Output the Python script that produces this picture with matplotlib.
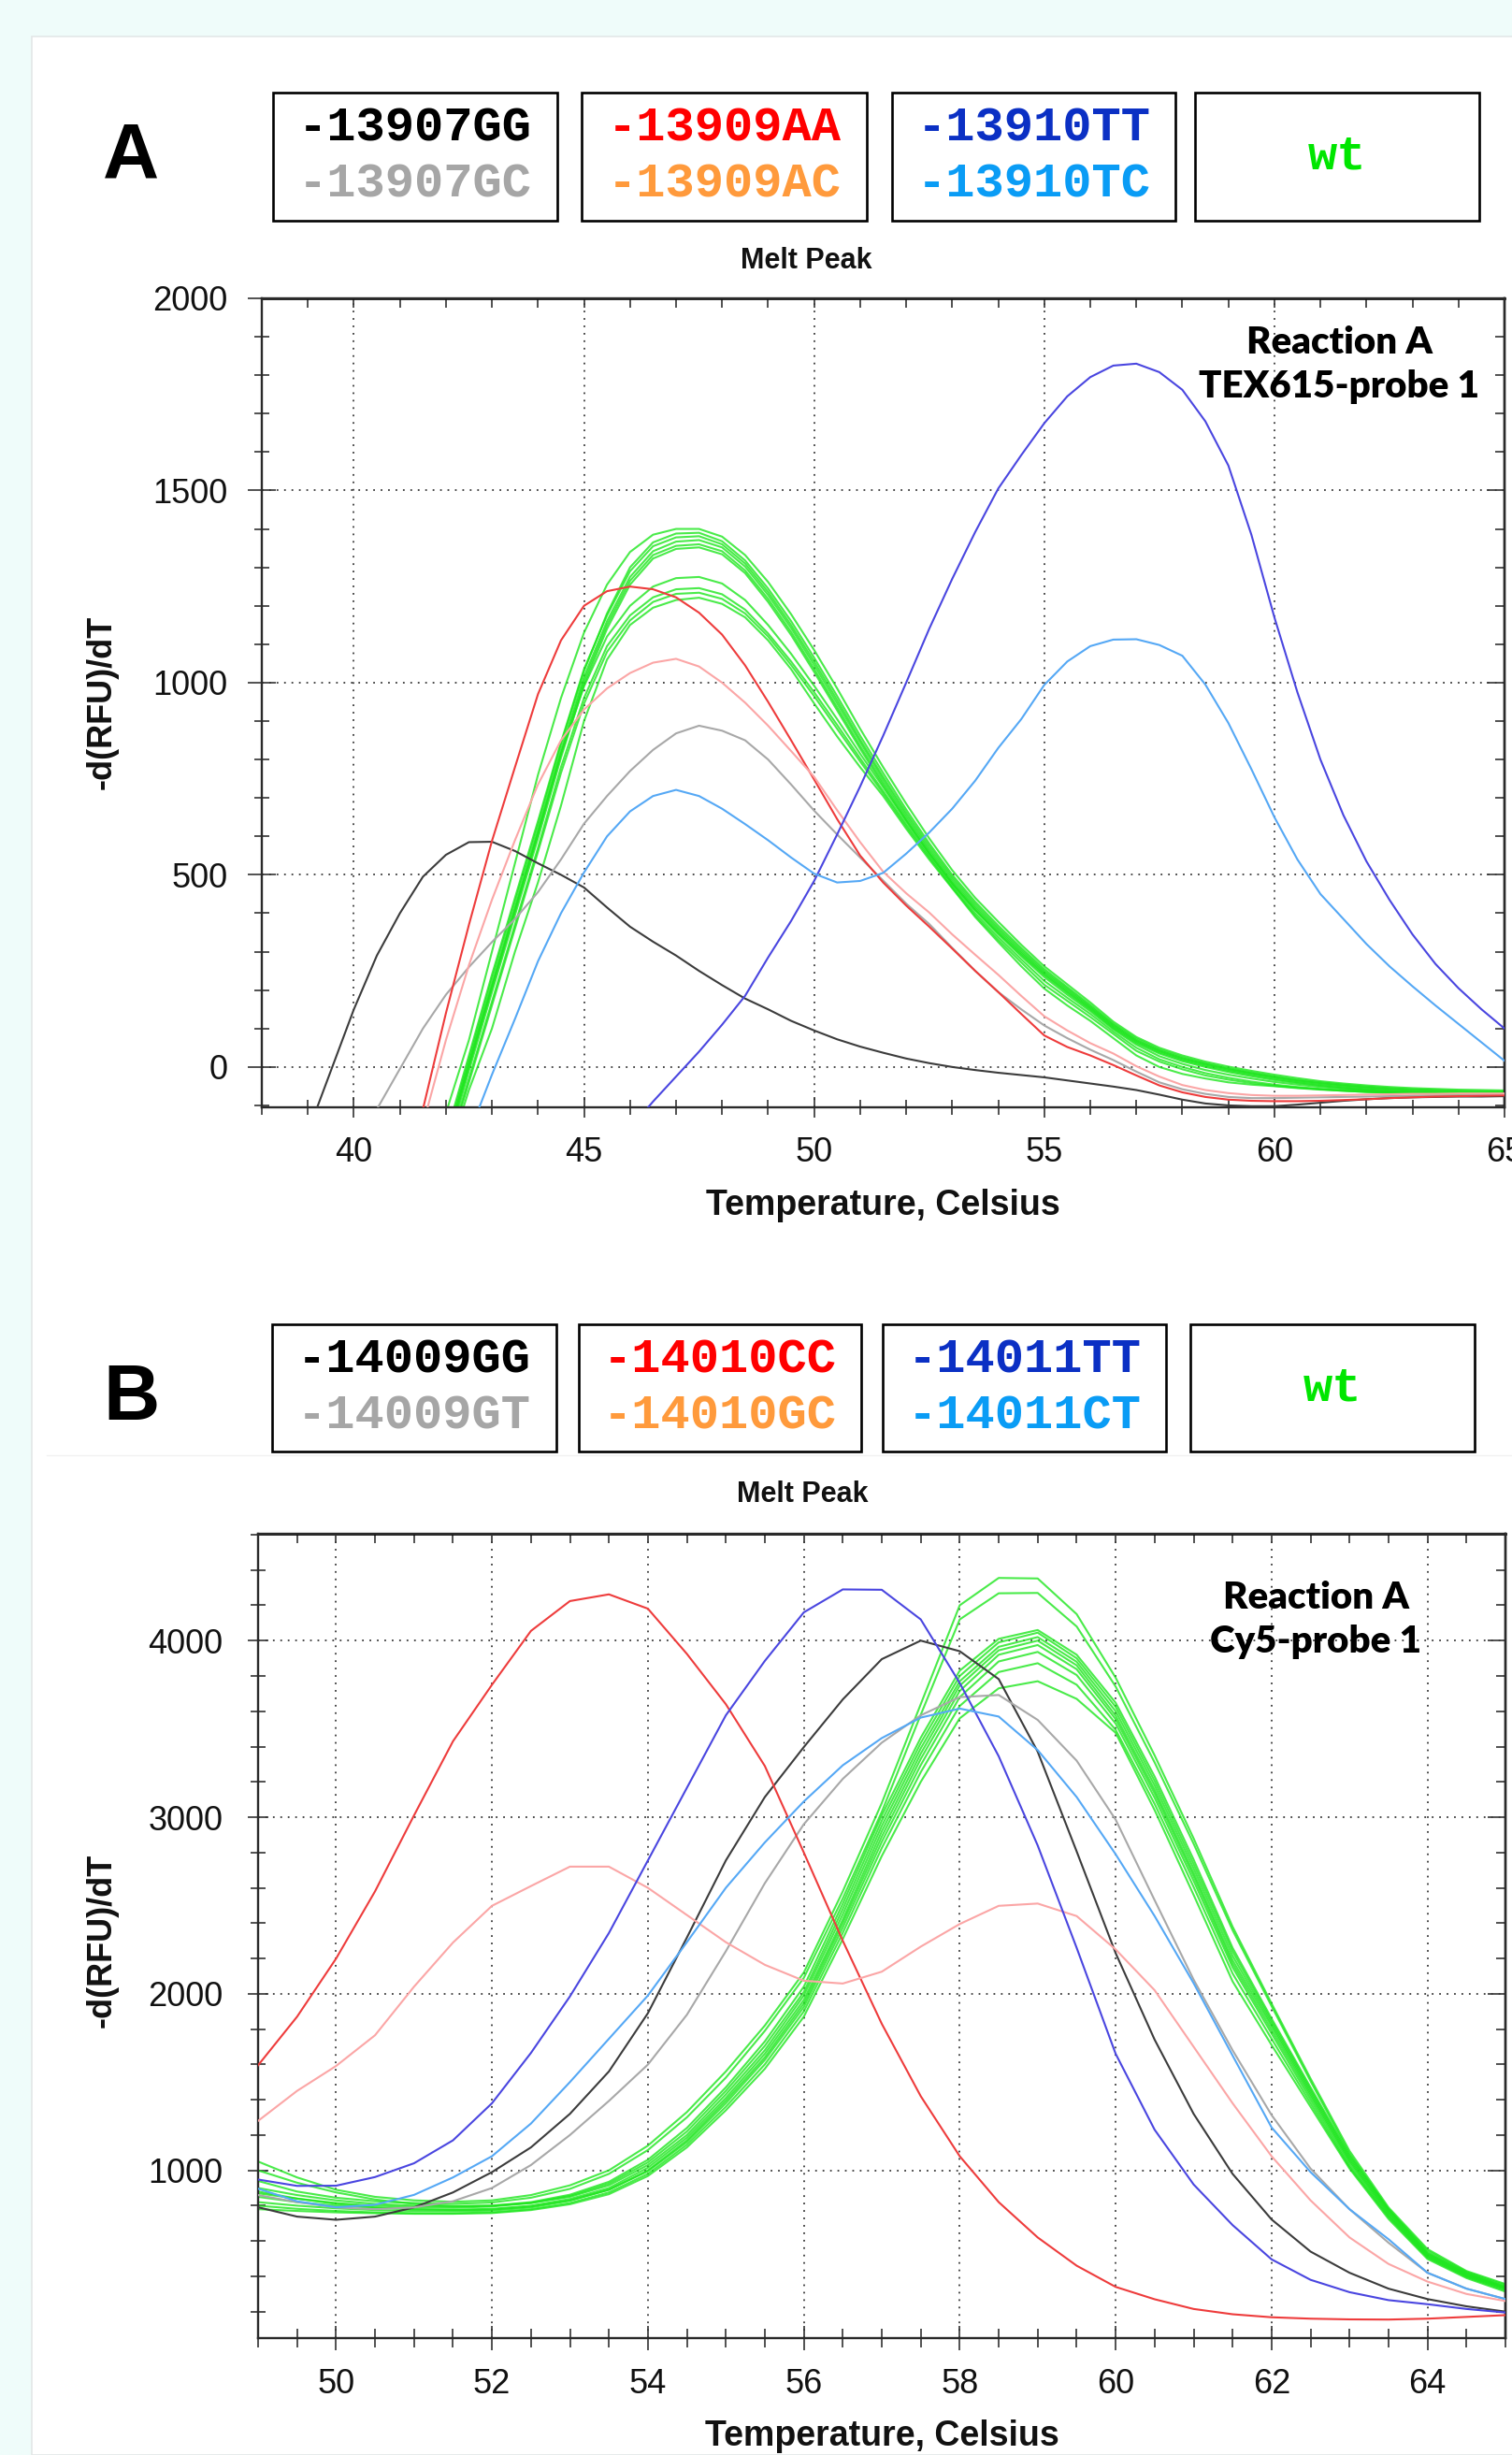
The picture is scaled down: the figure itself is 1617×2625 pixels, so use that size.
import numpy as np
import matplotlib
matplotlib.use('Agg')
import matplotlib.pyplot as plt
from matplotlib.patches import Rectangle
from matplotlib.lines import Line2D
from matplotlib.ticker import MultipleLocator

# ---------------------------------------------------------------------------
# data read off the melt-peak screenshots, sampled every 0.5 degC
# each curve = (first temperature, values)
# ---------------------------------------------------------------------------
STEP = 0.5

# panel A : Reaction A, TEX615-probe 1
a_gg = (39.0, [-170, -10, 150, 290, 400, 495, 552, 585, 586, 562, 530, 500, 467, 415, 365, 326, 290,
               250, 213, 178, 150, 120, 95, 72, 53, 37, 22, 10, 0, -8, -15, -21, -27, -35, -43, -51,
               -60, -72, -85, -95, -100, -102, -102, -98, -93, -88, -84, -81, -79, -78, -77, -77, -76])
a_gc = (40.5, [-110, -5, 100, 188, 260, 325, 385, 455, 540, 633, 705, 770, 825, 868, 888, 875, 850,
               800, 735, 667, 605, 545, 485, 425, 372, 310, 250, 195, 150, 108, 75, 45, 18, -12, -40,
               -58, -70, -78, -81, -81, -80, -79, -78, -77, -76, -75, -74, -74, -73, -73])
a_aa = (41.5, [-110, 140, 370, 588, 780, 970, 1110, 1200, 1238, 1250, 1243, 1222, 1182, 1125, 1045,
               950, 850, 748, 645, 550, 480, 420, 365, 308, 250, 195, 138, 82, 52, 30, 5, -22, -48,
               -66, -78, -85, -88, -89, -89, -88, -86, -84, -81, -79, -77, -76, -75, -74])
a_ac = (41.5, [-150, 70, 265, 435, 590, 735, 850, 930, 985, 1025, 1052, 1062, 1042, 1000, 948, 888,
               822, 755, 668, 585, 508, 452, 402, 345, 292, 240, 185, 132, 95, 62, 35, 2, -25, -47,
               -60, -68, -73, -75, -75, -74, -73, -72, -71, -70, -70, -69, -69, -69])
a_tt = (46.0, [-160, -90, -25, 40, 110, 185, 285, 380, 484, 605, 730, 862, 1000, 1140, 1270, 1392,
               1505, 1592, 1675, 1745, 1795, 1825, 1830, 1808, 1762, 1680, 1565, 1385, 1170, 975, 800,
               655, 535, 435, 345, 268, 205, 150, 100])
a_tc = (42.5, [-175, -20, 125, 275, 400, 506, 600, 665, 705, 721, 705, 672, 632, 590, 545, 503, 480,
               484, 505, 555, 610, 672, 745, 830, 905, 994, 1055, 1095, 1112, 1113, 1098, 1070, 995,
               895, 775, 650, 540, 450, 385, 320, 262, 210, 160, 112, 64, 16])
a_wt_start = 42.0
a_wt = [
    [-120, 70, 300, 530, 760, 960, 1130, 1255, 1340, 1385, 1400, 1400, 1380, 1332, 1262, 1178, 1085, 985,
     880, 780, 685, 595, 512, 440, 378, 318, 262, 215, 168, 118, 78, 50, 30, 14, 1, -10, -20, -29, -37,
     -43, -48, -52, -55, -57, -59, -60, -61],
    [-190, 20, 230, 430, 630, 840, 1030, 1180, 1300, 1365, 1388, 1390, 1368, 1318, 1245, 1160, 1065, 965,
     862, 765, 670, 582, 500, 430, 368, 310, 255, 208, 162, 113, 74, 46, 26, 10, -3, -14, -24, -33, -40,
     -46, -51, -55, -58, -60, -62, -63, -64],
    [-180, 30, 240, 440, 640, 845, 1035, 1175, 1290, 1355, 1378, 1381, 1360, 1310, 1236, 1150, 1055, 955,
     852, 755, 662, 575, 494, 424, 362, 305, 250, 204, 158, 110, 70, 43, 23, 8, -5, -16, -26, -35, -42,
     -48, -53, -57, -60, -62, -64, -65, -66],
    [-200, 10, 215, 415, 615, 825, 1015, 1160, 1275, 1342, 1367, 1371, 1352, 1302, 1228, 1142, 1046, 946,
     845, 748, 655, 568, 488, 418, 357, 300, 246, 200, 155, 107, 68, 41, 21, 6, -7, -18, -28, -37, -44,
     -50, -55, -59, -62, -64, -66, -67, -68],
    [-210, 0, 205, 405, 605, 815, 1005, 1150, 1265, 1332, 1356, 1360, 1342, 1292, 1218, 1132, 1036, 936,
     835, 740, 648, 562, 482, 413, 352, 296, 242, 196, 152, 104, 65, 38, 18, 3, -10, -21, -31, -40, -47,
     -53, -58, -62, -65, -67, -68, -69, -70],
    [-220, -10, 195, 395, 595, 805, 995, 1140, 1255, 1323, 1348, 1352, 1334, 1285, 1210, 1124, 1028, 928,
     828, 733, 642, 556, 477, 408, 348, 292, 239, 193, 149, 101, 62, 35, 15, 0, -13, -24, -34, -42, -49,
     -55, -60, -64, -66, -68, -69, -70, -71],
    [-200, 5, 210, 410, 610, 815, 990, 1120, 1200, 1250, 1272, 1275, 1258, 1215, 1150, 1075, 992, 905,
     815, 728, 640, 556, 478, 408, 346, 288, 234, 188, 145, 98, 58, 28, 8, -8, -20, -30, -39, -46, -52,
     -57, -61, -64, -66, -68, -69, -70, -71],
    [-230, -30, 170, 370, 570, 780, 960, 1095, 1175, 1222, 1243, 1246, 1230, 1190, 1128, 1055, 975, 890,
     803, 718, 632, 550, 472, 400, 338, 280, 224, 180, 138, 92, 50, 20, 0, -16, -28, -38, -46, -52, -57,
     -61, -64, -66, -68, -69, -70, -71, -72],
    [-240, -40, 160, 360, 560, 765, 945, 1080, 1162, 1210, 1231, 1234, 1218, 1180, 1120, 1046, 965, 880,
     795, 712, 626, 545, 467, 394, 331, 272, 214, 172, 130, 86, 42, 14, -6, -22, -33, -42, -49, -54, -58,
     -62, -65, -67, -69, -70, -71, -72, -72],
    [-250, -60, 100, 300, 480, 680, 900, 1060, 1150, 1195, 1215, 1221, 1205, 1170, 1110, 1035, 946, 860,
     780, 705, 620, 540, 465, 390, 325, 262, 204, 160, 120, 75, 30, 0, -18, -30, -40, -46, -50, -55, -59,
     -62, -65, -67, -69, -70, -71, -72, -72],
]

# panel B : Reaction A, Cy5-probe 1 (all curves start at 49.0)
b_gg = (49.0, [791, 738, 720, 738, 790, 875, 990, 1130, 1320, 1560, 1890, 2318, 2755, 3114, 3397, 3667,
               3895, 4000, 3940, 3782, 3371, 2806, 2230, 1740, 1320, 980, 722, 540, 420, 330, 271, 230, 200])
b_gt = (49.0, [860, 820, 790, 780, 790, 825, 900, 1030, 1200, 1393, 1599, 1881, 2241, 2626, 2960, 3217,
               3422, 3577, 3680, 3692, 3551, 3320, 2986, 2530, 2080, 1680, 1313, 1010, 780, 590, 420, 330, 271])
b_cc = (49.0, [1595, 1870, 2199, 2580, 3010, 3430, 3750, 4055, 4224, 4262, 4181, 3925, 3640, 3290, 2800,
               2300, 1830, 1420, 1080, 820, 620, 460, 340, 270, 215, 185, 168, 160, 156, 155, 160, 170, 180])
b_gc = (49.0, [1280, 1450, 1591, 1765, 2040, 2290, 2498, 2610, 2720, 2720, 2600, 2446, 2292, 2164, 2074,
               2058, 2125, 2267, 2395, 2498, 2511, 2440, 2251, 2020, 1700, 1380, 1080, 830, 620, 470, 370, 300, 260])
b_tt = (49.0, [948, 912, 913, 962, 1040, 1170, 1380, 1665, 1985, 2344, 2755, 3166, 3577, 3885, 4160, 4290,
               4288, 4120, 3760, 3345, 2840, 2260, 1660, 1230, 920, 690, 496, 380, 310, 265, 242, 215, 195])
b_ct = (49.0, [896, 825, 791, 805, 861, 960, 1080, 1265, 1500, 1745, 1990, 2292, 2600, 2857, 3089, 3294,
               3448, 3564, 3615, 3570, 3380, 3114, 2790, 2440, 2060, 1650, 1243, 990, 780, 610, 420, 330, 271])
b_wt_start = 49.0
b_wt = [
    [1050, 960, 890, 850, 830, 822, 830, 860, 915, 1000, 1140, 1330, 1560, 1820, 2120, 2580, 3080, 3640,
     4200, 4355, 4352, 4150, 3790, 3350, 2880, 2380, 1945, 1520, 1110, 790, 554, 430, 356],
    [940, 880, 845, 825, 815, 810, 818, 845, 895, 980, 1115, 1300, 1525, 1790, 2090, 2540, 3030, 3580,
     4120, 4268, 4270, 4080, 3740, 3310, 2850, 2360, 1930, 1505, 1095, 780, 545, 425, 350],
    [900, 860, 830, 810, 800, 795, 800, 820, 862, 935, 1060, 1240, 1470, 1730, 2040, 2510, 3010, 3450,
     3830, 4010, 4060, 3920, 3648, 3230, 2760, 2260, 1860, 1470, 1085, 780, 535, 420, 342],
    [870, 840, 815, 800, 792, 788, 795, 815, 855, 925, 1045, 1220, 1450, 1705, 2010, 2480, 2980, 3420,
     3800, 3990, 4045, 3900, 3625, 3205, 2735, 2240, 1845, 1458, 1075, 772, 530, 416, 339],
    [1000, 930, 875, 835, 810, 798, 800, 815, 850, 915, 1030, 1200, 1430, 1680, 1990, 2450, 2950, 3390,
     3770, 3965, 4020, 3880, 3600, 3180, 2710, 2215, 1830, 1445, 1065, 765, 525, 412, 336],
    [850, 820, 800, 788, 780, 777, 782, 800, 838, 900, 1015, 1185, 1410, 1660, 1965, 2420, 2920, 3360,
     3745, 3945, 4000, 3860, 3575, 3155, 2685, 2190, 1815, 1432, 1055, 758, 520, 408, 333],
    [820, 800, 785, 775, 770, 768, 772, 790, 828, 890, 1000, 1170, 1395, 1640, 1945, 2400, 2890, 3330,
     3715, 3920, 3975, 3838, 3555, 3135, 2665, 2170, 1795, 1418, 1045, 750, 515, 404, 330],
    [880, 840, 810, 790, 780, 775, 778, 795, 830, 890, 995, 1160, 1380, 1625, 1925, 2375, 2860, 3295,
     3680, 3882, 3936, 3805, 3530, 3110, 2640, 2150, 1775, 1400, 1030, 742, 510, 400, 326],
    [800, 782, 770, 762, 758, 757, 762, 780, 815, 875, 980, 1145, 1360, 1600, 1900, 2345, 2825, 3255,
     3630, 3822, 3872, 3750, 3495, 3075, 2605, 2115, 1745, 1380, 1018, 735, 505, 396, 320],
    [780, 770, 762, 757, 754, 754, 758, 775, 808, 865, 968, 1130, 1340, 1575, 1870, 2310, 2780, 3200,
     3560, 3730, 3770, 3670, 3478, 3040, 2560, 2070, 1710, 1360, 1010, 725, 498, 390, 313],
]

a_legend = [['-13907GG', '-13907GC'], ['-13909AA', '-13909AC'], ['-13910TT', '-13910TC'], ['wt']]
b_legend = [['-14009GG', '-14009GT'], ['-14010CC', '-14010GC'], ['-14011TT', '-14011CT'], ['wt']]
a_note = ['Reaction A', 'TEX615-probe 1']
b_note = ['Reaction A', 'Cy5-probe 1']

# ---------------------------------------------------------------------------
W, H = 1617, 2625
C_BLACK, C_GRAY, C_RED, C_PINK = '#3c3c3c', '#a8a8a8', '#ee3c3c', '#fba6a6'
C_BLUE, C_LBLUE, C_GREEN = '#4a46e0', '#55a8f5', '#1de61d'
LEG_COLORS = [['#000000', '#a6a6a6'], ['#ff0000', '#ff9a3c'], ['#0b30c4', '#0a9cf5'], ['#00e600']]

plt.rcParams['font.family'] = ['Liberation Sans', 'DejaVu Sans']


def fx(px):
    return px / W


def fy(py):
    return 1 - py / H


def temps(start, vals):
    return start + STEP * np.arange(len(vals))


fig = plt.figure(figsize=(W / 100, H / 100), dpi=100)
fig.patch.set_facecolor('#effcfa')
fig.add_artist(Rectangle((fx(34), 0), 1 - fx(34) + 0.01, fy(39), transform=fig.transFigure,
                         facecolor='white', edgecolor='#e3e7e7', lw=1.2, zorder=0))
fig.add_artist(Line2D([fx(50), 1], [fy(1556), fy(1556)], transform=fig.transFigure,
                      color='#f1f1f1', lw=1.0, zorder=0))

panels = [
    dict(rect=(280, 319, 1609, 1184), xlim=(38, 65), ylim=(-105, 2000), xmaj=5, xmin=1, ymaj=500, ymin=100,
         curves=[(a_gg, C_BLACK), (a_gc, C_GRAY), (a_aa, C_RED), (a_ac, C_PINK), (a_tt, C_BLUE), (a_tc, C_LBLUE)],
         greens=(a_wt_start, a_wt), boxes=[(292, 596), (622, 927), (954, 1257), (1278, 1582)], box_y=(99, 236),
         legend=a_legend, letter='A', letter_xy=(140, 168), title_xy=(862, 279), note=a_note,
         note_xy=(1432, 367, 414), xlab_y=1289, ylab_xy=(109, 751),
         xtick=(16, 12, 14), ytick=(21, 11.5, 16), yticks_shown=[0, 500, 1000, 1500, 2000]),
    dict(rect=(276, 1640, 1610, 2500), xlim=(49, 65), ylim=(50, 4605), xmaj=2, xmin=0.5, ymaj=1000, ymin=200,
         curves=[(b_gg, C_BLACK), (b_gt, C_GRAY), (b_cc, C_RED), (b_gc, C_PINK), (b_tt, C_BLUE), (b_ct, C_LBLUE)],
         greens=(b_wt_start, b_wt), boxes=[(291, 595), (619, 921), (944, 1247), (1273, 1577)], box_y=(1416, 1552),
         legend=b_legend, letter='B', letter_xy=(141, 1496), title_xy=(858, 1598), note=b_note,
         note_xy=(1407, 1708, 1755), xlab_y=2605, ylab_xy=(109, 2075),
         xtick=(19, 14, 13.5), ytick=(16, 12, 19), yticks_shown=[1000, 2000, 3000, 4000]),
]

for p in panels:
    x0, y0, x1, y1 = p['rect']
    ax = fig.add_axes([fx(x0), fy(y1), (x1 - x0) / W, (y1 - y0) / H])
    ax.set_facecolor('white')

    gstart, glist = p['greens']
    for vals in glist:
        ax.plot(temps(gstart, vals), vals, color=C_GREEN, lw=1.5, alpha=0.8, zorder=2)
    for (start, vals), col in p['curves']:
        ax.plot(temps(start, vals), vals, color=col, lw=1.5, zorder=3)

    ax.set_xlim(*p['xlim'])
    ax.set_ylim(*p['ylim'])
    ax.xaxis.set_major_locator(MultipleLocator(p['xmaj']))
    ax.xaxis.set_minor_locator(MultipleLocator(p['xmin']))
    ax.set_yticks(p['yticks_shown'])
    ax.yaxis.set_minor_locator(MultipleLocator(p['ymin']))
    ax.grid(True, which='major', color='#3a3a3a', lw=1.3, linestyle=(0, (1, 3.4)))
    ax.set_axisbelow(True)

    xl, xs, xpad = p['xtick']
    yl, ys, ypad = p['ytick']
    ax.tick_params(axis='x', which='major', direction='inout', length=xl, width=1.2, pad=xpad,
                   labelsize=26, colors='#333333', labelcolor='#111111', top=False)
    ax.tick_params(axis='x', which='minor', direction='inout', length=xs, width=1.2, colors='#333333', top=False)
    ax.tick_params(axis='y', which='major', direction='inout', length=yl, width=1.2, pad=ypad,
                   labelsize=26, colors='#333333', labelcolor='#111111', right=False)
    ax.tick_params(axis='y', which='minor', direction='inout', length=ys, width=1.2, colors='#333333', right=False)
    for s in ax.spines.values():
        s.set_linewidth(1.7)
        s.set_color('#2a2a2a')

    # inward ticks on top and right
    sx = ax.secondary_xaxis('top')
    sx.xaxis.set_major_locator(MultipleLocator(p['xmaj']))
    sx.xaxis.set_minor_locator(MultipleLocator(p['xmin']))
    sx.tick_params(which='both', direction='in', length=7, width=1.2, colors='#333333',
                   labeltop=False, labelbottom=False)
    sx.spines['top'].set_linewidth(1.9)
    sy = ax.secondary_yaxis('right')
    sy.yaxis.set_major_locator(MultipleLocator(p['ymaj']))
    sy.yaxis.set_minor_locator(MultipleLocator(p['ymin']))
    sy.tick_params(which='major', direction='in', length=14, width=1.2, colors='#333333',
                   labelright=False, labelleft=False)
    sy.tick_params(which='minor', direction='in', length=7, width=1.2, colors='#333333')
    sy.spines['right'].set_linewidth(1.7)

    # axis titles
    fig.text(fx((x0 + x1) / 2), fy(p['xlab_y']), 'Temperature, Celsius', ha='center', va='center',
             fontsize=27, fontweight='bold', color='#111111')
    lx, ly = p['ylab_xy']
    fig.text(fx(lx), fy(ly), '-d(RFU)/dT', ha='center', va='center', rotation=90,
             fontsize=26, fontweight='bold', color='#111111')
    tx, ty = p['title_xy']
    fig.text(fx(tx), fy(ty), 'Melt Peak', ha='center', va='center', fontsize=22, fontweight='bold',
             color='#111111')

    # reaction note inside the plot
    nx, ny1, ny2 = p['note_xy']
    for txt, ny in zip(p['note'], (ny1, ny2)):
        fig.text(fx(nx), fy(ny), txt, ha='center', va='center', fontsize=29, fontweight='heavy',
                 family=['Lato', 'DejaVu Sans'], color='#000000')

    # panel letter
    lx, ly = p['letter_xy']
    fig.text(fx(lx), fy(ly), p['letter'], ha='center', va='center', fontsize=60, fontweight='bold',
             color='#000000')

    # legend boxes
    by0, by1 = p['box_y']
    for (bx0, bx1), lines, cols in zip(p['boxes'], p['legend'], LEG_COLORS):
        fig.add_artist(Rectangle((fx(bx0), fy(by1)), (bx1 - bx0) / W, (by1 - by0) / H,
                                 transform=fig.transFigure, facecolor='white', edgecolor='#000000', lw=1.9))
        cx = (bx0 + bx1) / 2
        cy = (by0 + by1) / 2
        offs = [0] if len(lines) == 1 else [-30, 30]
        for txt, col, off in zip(lines, cols, offs):
            fig.text(fx(cx), fy(cy + off), txt, ha='center', va='center', fontsize=37.5,
                     fontweight='bold', family=['Liberation Mono', 'DejaVu Sans Mono'], color=col)

fig.savefig('out.png', dpi=100, facecolor=fig.get_facecolor())
